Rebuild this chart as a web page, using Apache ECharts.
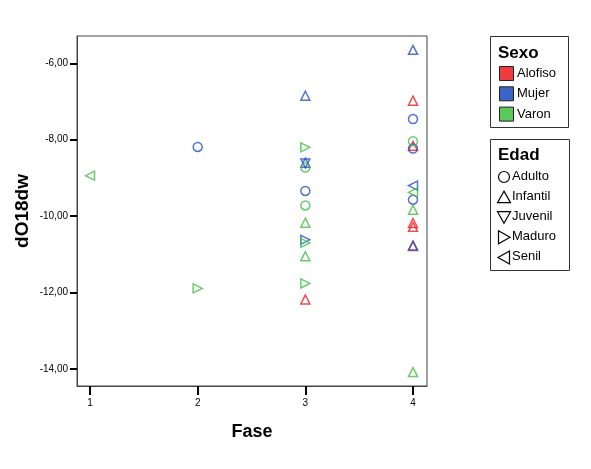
<!DOCTYPE html>
<html>
<head>
<meta charset="utf-8">
<script src="https://cdn.jsdelivr.net/npm/echarts@6/dist/echarts.min.js"></script>
<style>
  html, body { margin: 0; padding: 0; background: #fff; }
  #chart { width: 591px; height: 469px; }
</style>
</head>
<body>
<div id="chart"></div>
<script>
  // data
  const fase   = [1, 2, 2, 3, 3, 3, 3, 3, 3, 3, 3, 3, 3, 3, 3, 3, 4, 4, 4, 4, 4, 4, 4, 4, 4, 4, 4, 4, 4, 4, 4];
  const dO18dw = [-8.94, -8.19, -11.89, -6.85, -8.20, -8.60, -8.62, -8.73, -9.34, -9.72, -10.17, -10.62, -10.70, -11.05, -11.76, -12.18,
                  -5.65, -6.98, -7.46, -8.04, -8.16, -8.23, -9.20, -9.38, -9.57, -9.83, -10.18, -10.28, -10.77, -10.78, -14.08];
  const sexo   = ['Varon', 'Mujer', 'Varon', 'Mujer', 'Varon', 'Mujer', 'Mujer', 'Varon', 'Mujer', 'Varon', 'Varon', 'Mujer', 'Varon', 'Varon', 'Varon', 'Alofiso',
                  'Mujer', 'Alofiso', 'Mujer', 'Varon', 'Alofiso', 'Mujer', 'Mujer', 'Varon', 'Mujer', 'Varon', 'Alofiso', 'Alofiso', 'Mujer', 'Alofiso', 'Varon'];
  const edad   = ['Senil', 'Adulto', 'Maduro', 'Infantil', 'Maduro', 'Infantil', 'Juvenil', 'Adulto', 'Adulto', 'Adulto', 'Infantil', 'Maduro', 'Maduro', 'Infantil', 'Maduro', 'Infantil',
                  'Infantil', 'Infantil', 'Adulto', 'Adulto', 'Infantil', 'Adulto', 'Senil', 'Senil', 'Adulto', 'Infantil', 'Infantil', 'Infantil', 'Infantil', 'Infantil', 'Infantil'];

  const sexoNames = ['Alofiso', 'Mujer', 'Varon'];
  const edadNames = ['Adulto', 'Infantil', 'Juvenil', 'Maduro', 'Senil'];
  const xTicks = [1, 2, 3, 4];
  const yTicks = [-14, -12, -10, -8, -6];

  const sexoColor = { Alofiso: '#f03c3c', Mujer: '#3c64c8', Varon: '#5ac85a' };
  const markColor = { Alofiso: '#f01e1e', Mujer: '#2850c8', Varon: '#46be46' };
  const edadSymbol = {
    Adulto: 'circle',
    Infantil: 'path://M5,0 L10,9 L0,9 Z',
    Juvenil: 'path://M0,0 L10,0 L5,9 Z',
    Maduro: 'path://M0,0 L9,5 L0,10 Z',
    Senil: 'path://M9,0 L0,5 L9,10 Z'
  };

  const chart = echarts.init(document.getElementById('chart'));

  // one series per sexo / edad combination
  const series = [];
  sexoNames.forEach(s => {
    edadNames.forEach(e => {
      const pts = [];
      for (let i = 0; i < fase.length; i++) {
        if (sexo[i] === s && edad[i] === e) pts.push([fase[i], dO18dw[i]]);
      }
      if (!pts.length) return;
      series.push({
        name: s + ' ' + e,
        type: 'scatter',
        symbol: edadSymbol[e],
        symbolSize: 9,
        itemStyle: { color: 'transparent', borderColor: markColor[s], borderWidth: 1.5 },
        emphasis: { disabled: true },
        data: pts
      });
    });
  });

  // legend boxes
  const font = 'Arial, "Liberation Sans", sans-serif';
  const graphic = [];
  graphic.push({ type: 'rect', left: 490, top: 36, shape: { width: 78, height: 91 },
    style: { fill: '#fff', stroke: '#333', lineWidth: 1 } });
  graphic.push({ type: 'text', left: 498, top: 45,
    style: { text: 'Sexo', font: 'bold 17px ' + font, fill: '#000' } });
  sexoNames.forEach((s, i) => {
    const y = 66 + i * 20.3;
    graphic.push({ type: 'rect', left: 499, top: y, shape: { width: 14, height: 14 },
      style: { fill: sexoColor[s], stroke: '#222', lineWidth: 1 } });
    graphic.push({ type: 'text', left: 517, top: y + 1,
      style: { text: s, font: '13px ' + font, fill: '#000' } });
  });

  graphic.push({ type: 'rect', left: 490, top: 139, shape: { width: 79, height: 131 },
    style: { fill: '#fff', stroke: '#333', lineWidth: 1 } });
  graphic.push({ type: 'text', left: 498, top: 147,
    style: { text: 'Edad', font: 'bold 17px ' + font, fill: '#000' } });
  const legPaths = {
    Adulto: { type: 'circle', shape: { cx: 0, cy: 0, r: 5.5 } },
    Infantil: { type: 'polygon', shape: { points: [[0, -6], [6.5, 5.5], [-6.5, 5.5]] } },
    Juvenil: { type: 'polygon', shape: { points: [[-6.5, -5.5], [6.5, -5.5], [0, 6]] } },
    Maduro: { type: 'polygon', shape: { points: [[-5.5, -6.5], [6, 0], [-5.5, 6.5]] } },
    Senil: { type: 'polygon', shape: { points: [[5.5, -6.5], [-6, 0], [5.5, 6.5]] } }
  };
  edadNames.forEach((e, i) => {
    const y = 177 + i * 20.1;
    const p = legPaths[e];
    graphic.push({ type: p.type, x: 504, y: y, shape: p.shape,
      style: { fill: 'none', stroke: '#000', lineWidth: 1.2 } });
    graphic.push({ type: 'text', left: 512, top: y - 7,
      style: { text: e, font: '13px ' + font, fill: '#000' } });
  });

  const option = {
    animation: false,
    backgroundColor: '#fff',
    textStyle: { fontFamily: font },
    grid: { left: 77, top: 36, width: 350, height: 350, show: true, borderColor: '#444', borderWidth: 1, backgroundColor: '#fff' },
    xAxis: {
      type: 'value',
      min: 0.879, max: 4.13,
      name: 'Fase', nameLocation: 'middle', nameGap: 37,
      nameTextStyle: { fontSize: 18, fontWeight: 'bold', color: '#000', fontFamily: font },
      axisLine: { show: true, lineStyle: { color: '#444', width: 1 } },
      axisTick: { show: true, customValues: xTicks, length: 9, lineStyle: { color: '#000', width: 2 } },
      axisLabel: { customValues: xTicks, margin: 12, fontSize: 10, color: '#000', fontFamily: font },
      splitLine: { show: false }
    },
    yAxis: {
      type: 'value',
      min: -14.444, max: -5.287,
      name: 'dO18dw', nameLocation: 'middle', nameGap: 45, nameRotate: 90, nameMoveOverlap: false,
      nameTextStyle: { fontSize: 19, fontWeight: 'bold', color: '#000', fontFamily: font },
      axisLine: { show: true, lineStyle: { color: '#444', width: 1 } },
      axisTick: { show: true, customValues: yTicks, length: 7, lineStyle: { color: '#000', width: 2 } },
      axisLabel: { customValues: yTicks, margin: 9, fontSize: 10, color: '#000', fontFamily: font,
        formatter: v => v.toFixed(2).replace('.', ',') },
      splitLine: { show: false }
    },
    graphic: graphic,
    series: series
  };
  chart.setOption(option);
</script>
</body>
</html>
